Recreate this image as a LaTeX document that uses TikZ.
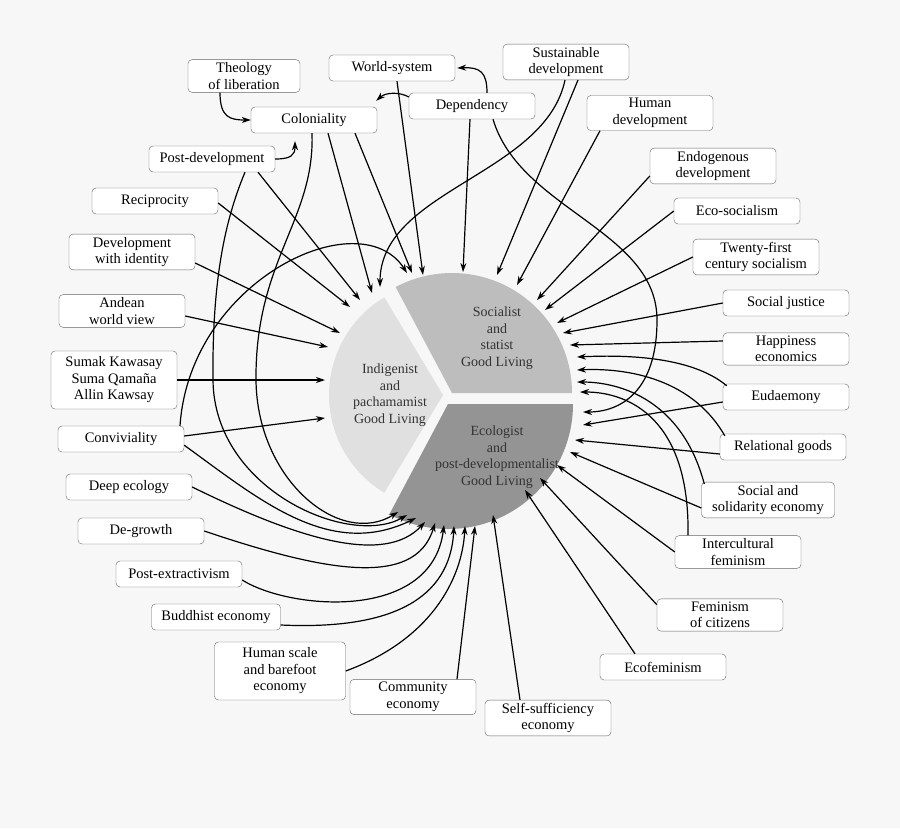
\documentclass[tikz,border=0pt]{standalone}
\usepackage{fontspec}
\setmainfont{Liberation Serif}
\usetikzlibrary{arrows.meta}
\begin{document}
\begin{tikzpicture}[x=1pt,y=-1pt,
 box/.style={draw=black!60,fill=white,rounded corners=4pt,align=center,minimum width=126pt,minimum height=26pt,inner ysep=3pt,inner xsep=2pt,font=\fontsize{14.5}{16.5}\selectfont},
 sec/.style={align=center,text=black!80,font=\fontsize{14}{16.5}\selectfont},
 arr/.style={line width=1.2pt,-{Stealth[length=9pt,width=6pt]}}]
\fill[black!3] (0,0) rectangle (900,828);
\useasboundingbox (0,0) rectangle (900,828);
% sectors
\fill[black!26] (452,393) -- (572,393) arc[start angle=0,end angle=-118,radius=120] -- cycle;
\fill[black!42] (448,404) -- (573,404) arc[start angle=0,end angle=118,radius=125] -- cycle;
\fill[black!12] (443,395) -- ++(-121:114) arc[start angle=-121,end angle=-239,radius=114] -- cycle;
\node[sec] (soc) at (497,338) {Socialist\\and\\statist\\Good Living};
\node[sec] (ind) at (390,395) {Indigenist\\and\\pachamamist\\Good Living};
\node[sec] (eco) at (497,457) {Ecologist\\and\\post-developmentalist\\Good Living};
% boxes
\node[box,minimum width=112pt] (theo) at (244,76) {Theology\\of liberation};
\node[box] (ws) at (392,68) {World-system};
\node[box] (sus) at (566,62) {Sustainable\\development};
\node[box] (colo) at (314,120) {Coloniality};
\node[box] (dep) at (472,106) {Dependency};
\node[box] (hum) at (650,113) {Human\\development};
\node[box] (postdev) at (212,159) {Post-development};
\node[box] (endo) at (713,166) {Endogenous\\development};
\node[box] (recip) at (155,201) {Reciprocity};
\node[box] (ecos) at (737,211) {Eco-socialism};
\node[box] (dwi) at (132,252) {Development\\with identity};
\node[box] (tw) at (756,257) {Twenty-first\\century socialism};
\node[box] (and) at (122,311) {Andean\\world view};
\node[box] (sj) at (786,303) {Social justice};
\node[box] (hap) at (786,349) {Happiness\\economics};
\node[box,minimum height=58pt] (sumak) at (114,380) {Sumak Kawasay\\Suma Qamaña\\Allin Kawsay};
\node[box] (eud) at (786,397) {Eudaemony};
\node[box] (conv) at (121,439) {Conviviality};
\node[box] (rel) at (783,447) {Relational goods};
\node[box] (deep) at (129,487) {Deep ecology};
\node[box,minimum width=133pt] (ssol) at (768,500) {Social and\\solidarity economy};
\node[box] (degr) at (141,531) {De-growth};
\node[box] (inter) at (738,552) {Intercultural\\feminism};
\node[box] (pext) at (179,574) {Post-extractivism};
\node[box,minimum width=129pt] (budd) at (216,617) {Buddhist economy};
\node[box] (fem) at (720,615) {Feminism\\of citizens};
\node[box] (ecof) at (663,667) {Ecofeminism};
\node[box,minimum width=131pt,minimum height=58pt] (hs) at (280,671) {Human scale\\and barefoot\\economy};
\node[box] (comm) at (413,697) {Community\\economy};
\node[box] (self) at (548,718) {Self-sufficiency\\economy};
% top connectors
\draw[arr] ([xshift=-24pt]theo.south) .. controls +(0,25) and (230,120) .. (colo.west);
\draw[arr] (postdev.east) .. controls +(16,0) and (295,155) .. ([xshift=-19pt,yshift=-8pt]colo.south);
\draw[arr] ([yshift=9pt]dep.west) .. controls (400,92) and (386,92) .. ([xshift=-1pt,yshift=6pt]colo.north east);
\draw[arr] ([xshift=15pt]dep.north) .. controls (487,72) and (480,67) .. ([xshift=2pt]ws.east);
\draw[arr] ([xshift=5pt]ws.south) -- (423,275);
\draw[arr] ([xshift=-2pt]dep.south) -- (463,272);
\draw[arr] ([xshift=21pt]dep.south) .. controls (520,210) and (657,230) .. (657,320) .. controls (657,392) and (620,412) .. (583,412);
\draw[arr] ([xshift=-1pt]sus.south) .. controls (545,175) and (380,190) .. (380,287);
\draw[arr] ([xshift=12pt]sus.south) -- (497,275);
\draw[arr] ([xshift=-50pt]hum.south) -- (517,285);
\draw[arr] ([xshift=14pt]colo.south) -- (372,293);
\draw[arr] ([xshift=41pt]colo.south) -- (412,273);
\draw[arr] ([xshift=-2pt]colo.south) .. controls (315,220) and (255,260) .. (256,380) .. controls (257,480) and (340,548) .. (398,512);
\draw[arr] ([xshift=33pt]postdev.south) .. controls (225,220) and (212,280) .. (213,380) .. controls (214,490) and (350,548) .. (407,515);
\draw[arr] ([xshift=46pt]postdev.south) -- (360,300);
% left connectors
\draw[arr] ([yshift=-2pt]recip.east) -- (350,307);
\draw[arr] ([yshift=-11pt]dwi.east) -- (340,333);
\draw[arr] ([yshift=-5pt]and.east) -- (328,347);
\draw[arr] (sumak.east) -- (325,380);
\draw[arr] ([yshift=3pt]conv.east) -- (325,418);
\draw[arr] ([xshift=59pt]conv.north) .. controls (190,280) and (360,200) .. (407,273);
\draw[arr] ([yshift=7pt]conv.south east) .. controls (260,500) and (330,560) .. (416,518);
\draw[arr] (deep.east) .. controls (300,540) and (385,565) .. (425,522);
\draw[arr] (degr.east) .. controls (320,570) and (415,590) .. (435,523);
\draw[arr] ([yshift=-6pt]pext.east) .. controls (290,610) and (432,622) .. (444,525);
\draw[arr] ([yshift=-8pt]budd.east) .. controls (390,630) and (450,600) .. (454,526);
\draw[arr] (hs.east) .. controls (430,640) and (462,580) .. (465,526);
\draw[arr] ([xshift=44pt]comm.north) -- (475,526);
\draw[arr] ([xshift=-28pt]self.north) -- (493,515);
% right connectors
\draw[arr] ([yshift=-10pt]endo.west) -- (537,300);
\draw[arr] (ecos.west) -- (545,310);
\draw[arr] (tw.west) -- (557,323);
\draw[arr] (sj.west) -- (563,333);
\draw[arr] ([yshift=8pt]hap.west) -- (570,345);
\draw[arr] ([xshift=4pt,yshift=-2pt]eud.north west) .. controls (690,355) and (620,355) .. (577,357);
\draw[arr] ([xshift=5pt,yshift=-2pt]rel.north west) .. controls (690,375) and (620,368) .. (577,370);
\draw[arr] ([xshift=3pt,yshift=-2pt]ssol.north west) .. controls (682,400) and (620,382) .. (577,382);
\draw[arr] ([xshift=-50pt]inter.north) .. controls (690,420) and (630,392) .. (580,392);
\draw[arr] ([yshift=-5pt]eud.west) -- (583,425);
\draw[arr] ([yshift=-7pt]rel.west) -- (575,440);
\draw[arr] ([yshift=-8pt]ssol.west) -- (570,452);
\draw[arr] (inter.west) -- (557,465);
\draw[arr] ([yshift=-6pt]fem.north west) -- (540,478);
\draw[arr] ([xshift=-28pt]ecof.north) -- (525,490);
\end{tikzpicture}
\end{document}
